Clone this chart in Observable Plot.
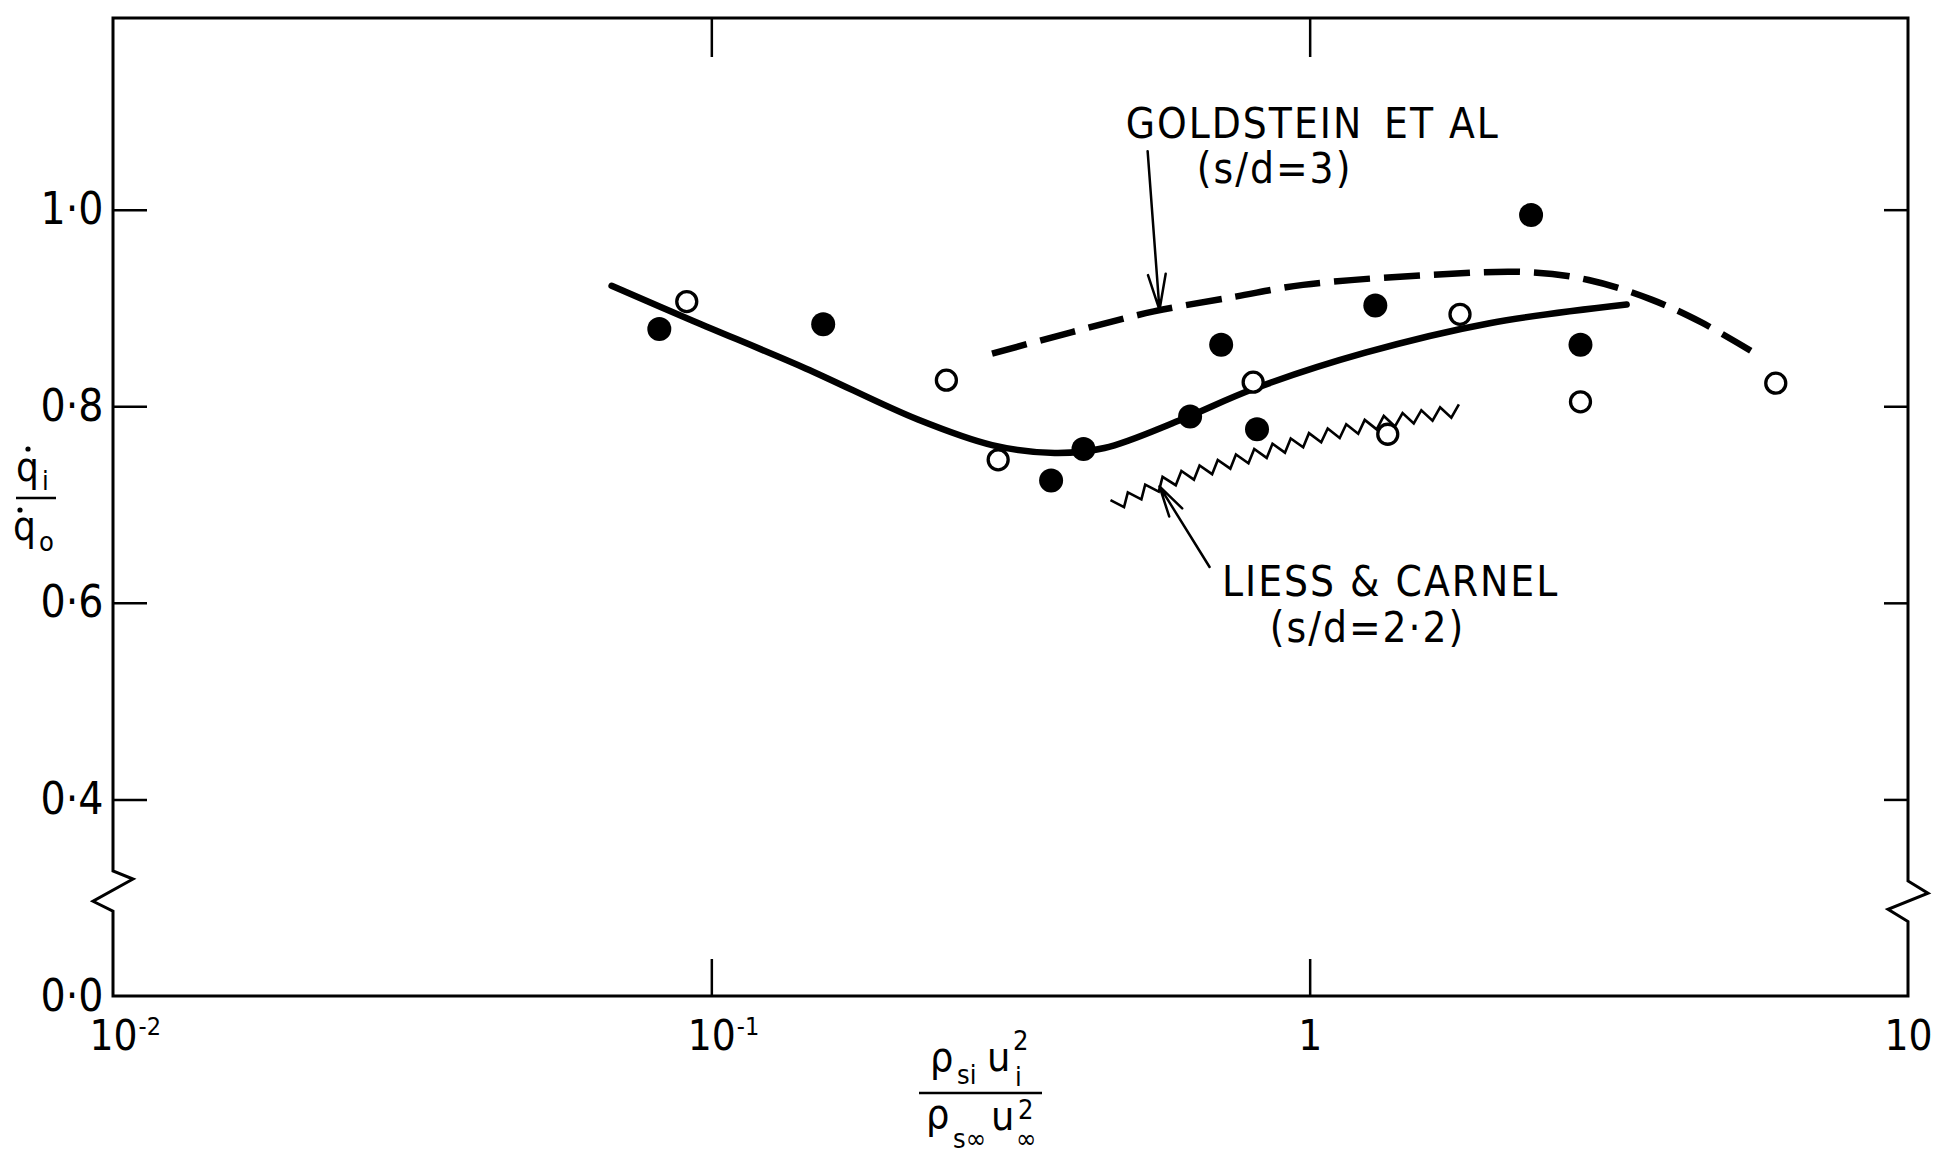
<!DOCTYPE html>
<html>
<head>
<meta charset="utf-8">
<script src="https://cdn.jsdelivr.net/npm/d3@7"></script>
<script src="https://cdn.jsdelivr.net/npm/@observablehq/plot@0.6"></script>
<style>
  html, body { margin: 0; padding: 0; background: #fff; }
  #chart { width: 1944px; height: 1154px; }
  .anno text { letter-spacing: 2px; }
</style>
</head>
<body>
<div id="chart"></div>
<script>
// Present measurements: filled symbols
const filledX = [0.0817, 0.1535, 0.369, 0.418, 0.630, 0.710, 0.815, 1.285, 2.34, 2.83];
const filledY = [0.879, 0.884, 0.725, 0.757, 0.790, 0.863, 0.777, 0.903, 0.995, 0.863];
// Present measurements: open symbols
const openX = [0.0908, 0.2466, 0.301, 0.803, 1.348, 1.78, 2.83, 6.0];
const openY = [0.907, 0.827, 0.746, 0.825, 0.772, 0.894, 0.805, 0.824];
// Mean curve through the present data
const fitX = [0.068, 0.0933, 0.1435, 0.221, 0.294, 0.374, 0.453, 0.604, 0.803, 1.236, 1.995, 3.38];
const fitY = [0.923, 0.887, 0.839, 0.787, 0.761, 0.753, 0.758, 0.786, 0.818, 0.855, 0.885, 0.904];
// Goldstein et al (s/d = 3)
const goldX = [0.294, 0.40, 0.548, 0.75, 0.973, 1.57, 2.30, 2.92, 3.72, 4.50, 5.45];
const goldY = [0.854, 0.876, 0.897, 0.912, 0.924, 0.934, 0.937, 0.929, 0.909, 0.886, 0.857];
// Liess & Carnel (s/d = 2.2)
const liessX = [0.469, 0.575, 0.766, 1.02, 1.30, 1.79];
const liessY = [0.699, 0.723, 0.746, 0.768, 0.783, 0.796];

// Axis ticks and labels
const xTicks = [0.01, 0.1, 1, 10];
const xTickBase = ["10", "10", "1", "10"];
const xTickExp = ["-2", "-1", "", ""];
const yTicks = [0.4, 0.6, 0.8, 1.0];
const yOrigin = [0];

// Annotations
const annoText = ["GOLDSTEIN\u2002ET AL", "(s/d=3)", "LIESS & CARNEL", "(s/d=2\u00b72)"];
const annoX = [1.01, 0.872, 1.363, 1.247];
const annoY = [1.087, 1.041, 0.621, 0.574];
const arrowX1 = [0.535, 0.679];
const arrowY1 = [1.060, 0.637];
const arrowX2 = [0.560, 0.560];
const arrowY2 = [0.8985, 0.719];

// Use the first condensed sans face that is installed
function installed(name) {
  const c = document.createElement("canvas").getContext("2d");
  const s = "GOLDSTEIN ET AL 0123456789";
  c.font = "40px monospace";
  const w0 = c.measureText(s).width;
  c.font = `40px "${name}", monospace`;
  return c.measureText(s).width !== w0;
}
const faces = ["Liberation Sans Narrow", "DejaVu Sans Condensed", "Roboto Condensed", "Arial Narrow", "Liberation Sans"];
const FACE = faces.find(installed) || "sans-serif";
const FONT = `"${FACE}", sans-serif`;
const NARROW = FACE !== "Liberation Sans" && FACE !== "sans-serif";
const k = NARROW ? 1 : 0.88; // shrink a little when no condensed face exists

function textWidth(t, size) {
  const c = document.createElement("canvas").getContext("2d");
  c.font = `${size}px ${FONT}`;
  return c.measureText(t).width;
}

const pts = (xs, ys) => xs.map((x, i) => ({x, y: ys[i]}));
const filled = pts(filledX, filledY);
const open = pts(openX, openY);
const fit = pts(fitX, fitY);
const gold = pts(goldX, goldY);
const liess = pts(liessX, liessY);
const annos = annoText.map((t, i) => ({t, x: annoX[i], y: annoY[i]}));
const arrows = arrowX1.map((x1, i) => ({x1, y1: arrowY1[i], x2: arrowX2[i], y2: arrowY2[i]}));
const sups = xTicks.map((x, i) => ({x, t: xTickExp[i]})).filter(d => d.t);

// Draws a line as a sawtooth trace along its projected path
function sawtooth(half, amp, width) {
  return function(index, scales, values) {
    const X = values.x, Y = values.y;
    const P = Array.from(index, i => [X[i], Y[i]]);
    const segs = [];
    let total = 0;
    for (let j = 1; j < P.length; ++j) {
      const dx = P[j][0] - P[j - 1][0], dy = P[j][1] - P[j - 1][1];
      const l = Math.hypot(dx, dy);
      segs.push({a: P[j - 1], dx, dy, l, s: total});
      total += l;
    }
    const out = [];
    const n = Math.floor(total / half);
    for (let j = 0; j <= n; ++j) {
      const s = j * half;
      const g = segs.find(g => s <= g.s + g.l) || segs[segs.length - 1];
      const t = (s - g.s) / g.l;
      const px = g.a[0] + g.dx * t, py = g.a[1] + g.dy * t;
      const nx = -g.dy / g.l, ny = g.dx / g.l;
      const o = (j % 2 ? 1 : -1) * amp;
      out.push([px + nx * o, py + ny * o]);
    }
    const g = d3.create("svg:g");
    g.append("path")
      .attr("d", d3.line()(out))
      .attr("fill", "none")
      .attr("stroke", "black")
      .attr("stroke-width", width)
      .attr("stroke-linejoin", "miter");
    return g.node();
  };
}

const fmtY = d => d.toFixed(1).replace(".", "\u00b7");
const noText = () => "";
const tickFont = 42 * k;
const yTickFont = 44 * k;
const supFont = 25 * k;
const supDx = textWidth("10", tickFont) / 2 + 1;

const plot = Plot.plot({
  width: 1944,
  height: 1154,
  marginLeft: 113,
  marginRight: 36,
  marginTop: 18,
  marginBottom: 158,
  style: {fontFamily: FONT, background: "white", color: "black", overflow: "visible"},
  x: {type: "log", domain: [0.01, 10], label: null},
  // broken axis: the stretch from 0 to 0.4 occupies a single grid step
  y: {transform: v => (v < 0.4 ? 0.2 + v / 2 : v), domain: [0.2, 1.195], label: null},
  marks: [
    // inward ticks on all four sides
    Plot.axisX({anchor: "bottom", ticks: [0.1, 1], tickSize: -37, strokeWidth: 2.5, tickFormat: noText, label: null}),
    Plot.axisX({anchor: "top", ticks: [0.1, 1], tickSize: -38, strokeWidth: 2.5, tickFormat: noText, label: null}),
    Plot.axisY({anchor: "left", ticks: yTicks, tickSize: -34, strokeWidth: 2.5, tickFormat: noText, label: null}),
    Plot.axisY({anchor: "right", ticks: yTicks, tickSize: -25, strokeWidth: 2.5, tickFormat: noText, label: null}),
    // tick labels
    Plot.axisX({anchor: "bottom", ticks: xTicks, tickSize: 0, tickPadding: 24, fontSize: tickFont,
      tickFormat: d => xTickBase[xTicks.indexOf(d)], label: null}),
    Plot.text(sups, {x: "x", text: "t", frameAnchor: "bottom", dy: 30, dx: supDx, textAnchor: "start",
      lineAnchor: "middle", fontSize: supFont}),
    Plot.axisY({anchor: "left", ticks: yTicks, tickSize: 0, tickPadding: 10, fontSize: yTickFont,
      tickFormat: fmtY, label: null}),
    // suppressed origin, drawn at the foot of the broken axis
    Plot.text(yOrigin, {y: d => d, text: fmtY, frameAnchor: "left", dx: -10, textAnchor: "end",
      lineAnchor: "middle", fontSize: yTickFont}),

    // reference correlations
    Plot.line(gold, {x: "x", y: "y", curve: "catmull-rom", stroke: "black", strokeWidth: 6.5,
      strokeDasharray: "36,14", strokeLinecap: "butt"}),
    Plot.line(liess, {x: "x", y: "y", stroke: "black", render: sawtooth(9.5, 6, 2.6)}),
    // mean curve
    Plot.line(fit, {x: "x", y: "y", curve: "catmull-rom", stroke: "black", strokeWidth: 6.5, strokeLinecap: "round"}),

    // data points
    Plot.dot(open, {x: "x", y: "y", r: 10, fill: "white", stroke: "black", strokeWidth: 3.3}),
    Plot.dot(filled, {x: "x", y: "y", r: 12, fill: "black", stroke: "none"}),

    // annotations
    Plot.arrow(arrows, {x1: "x1", y1: "y1", x2: "x2", y2: "y2", stroke: "black", strokeWidth: 2.5,
      headLength: 22, headAngle: 28}),
    Plot.text(annos, {x: "x", y: "y", text: "t", fontSize: 42 * k, lineAnchor: "middle", textAnchor: "middle",
      className: "anno"})
  ]
});

document.getElementById("chart").appendChild(plot);

// Frame with axis-break marks on both vertical sides
const sx = plot.scale("x"), sy = plot.scale("y");
const xl = sx.apply(0.01), xr = sx.apply(10);
const yt = 18, yb = 1154 - 158;
const y4 = sy.apply(0.4);
const at = f => y4 + (yb - y4) * f;
const zz = 20;
const leftBreak = [0.364, 0.405, 0.518, 0.569].map(at);
const rightBreak = [0.415, 0.477, 0.559, 0.621].map(at);
const frame = d3.path();
frame.moveTo(xl, yt);
frame.lineTo(xr, yt);
frame.lineTo(xr, rightBreak[0]);
frame.lineTo(xr + zz, rightBreak[1]);
frame.lineTo(xr - zz, rightBreak[2]);
frame.lineTo(xr, rightBreak[3]);
frame.lineTo(xr, yb);
frame.lineTo(xl, yb);
frame.lineTo(xl, leftBreak[3]);
frame.lineTo(xl - zz, leftBreak[2]);
frame.lineTo(xl + zz, leftBreak[1]);
frame.lineTo(xl, leftBreak[0]);
frame.closePath();
const svg = d3.select(plot);
svg.append("path")
  .attr("d", frame.toString())
  .attr("fill", "none")
  .attr("stroke", "black")
  .attr("stroke-width", 3)
  .attr("stroke-linejoin", "miter");

// Axis titles as stacked fractions
function frac(g, items) {
  for (const it of items) {
    if (it.rule) {
      g.append("line").attr("x1", it.x1).attr("x2", it.x2).attr("y1", it.y).attr("y2", it.y)
        .attr("stroke", "black").attr("stroke-width", 2.5);
    } else if (it.dot) {
      g.append("circle").attr("cx", it.x).attr("cy", it.y).attr("r", 2.6).attr("fill", "black");
    } else {
      g.append("text").attr("x", it.x).attr("y", it.y).attr("font-size", it.s * k)
        .attr("text-anchor", it.a || "start").attr("fill", "black").text(it.t);
    }
  }
}
const titles = svg.append("g").attr("font-family", FONT);
// y: q̇i / q̇o
frac(titles.append("g"), [
  {t: "q", x: 16, y: 481, s: 40},
  {dot: true, x: 28, y: 449},
  {t: "i", x: 42, y: 490, s: 27},
  {rule: true, x1: 16, x2: 56, y: 498},
  {dot: true, x: 20, y: 510},
  {t: "q", x: 13, y: 540, s: 40},
  {t: "o", x: 39, y: 551, s: 27}
]);
// x: ρsi ui² / ρs∞ u∞²
frac(titles.append("g"), [
  {t: "\u03c1", x: 930, y: 1071, s: 41},
  {t: "si", x: 957, y: 1084, s: 27},
  {t: "u", x: 987, y: 1071, s: 41},
  {t: "2", x: 1013, y: 1050, s: 27},
  {t: "i", x: 1015, y: 1086, s: 27},
  {rule: true, x1: 919, x2: 1042, y: 1093},
  {t: "\u03c1", x: 926, y: 1128, s: 41},
  {t: "s\u221e", x: 953, y: 1148, s: 27},
  {t: "u", x: 991, y: 1130, s: 41},
  {t: "2", x: 1018, y: 1119, s: 27},
  {t: "\u221e", x: 1016, y: 1148, s: 27}
]);
</script>
</body>
</html>
